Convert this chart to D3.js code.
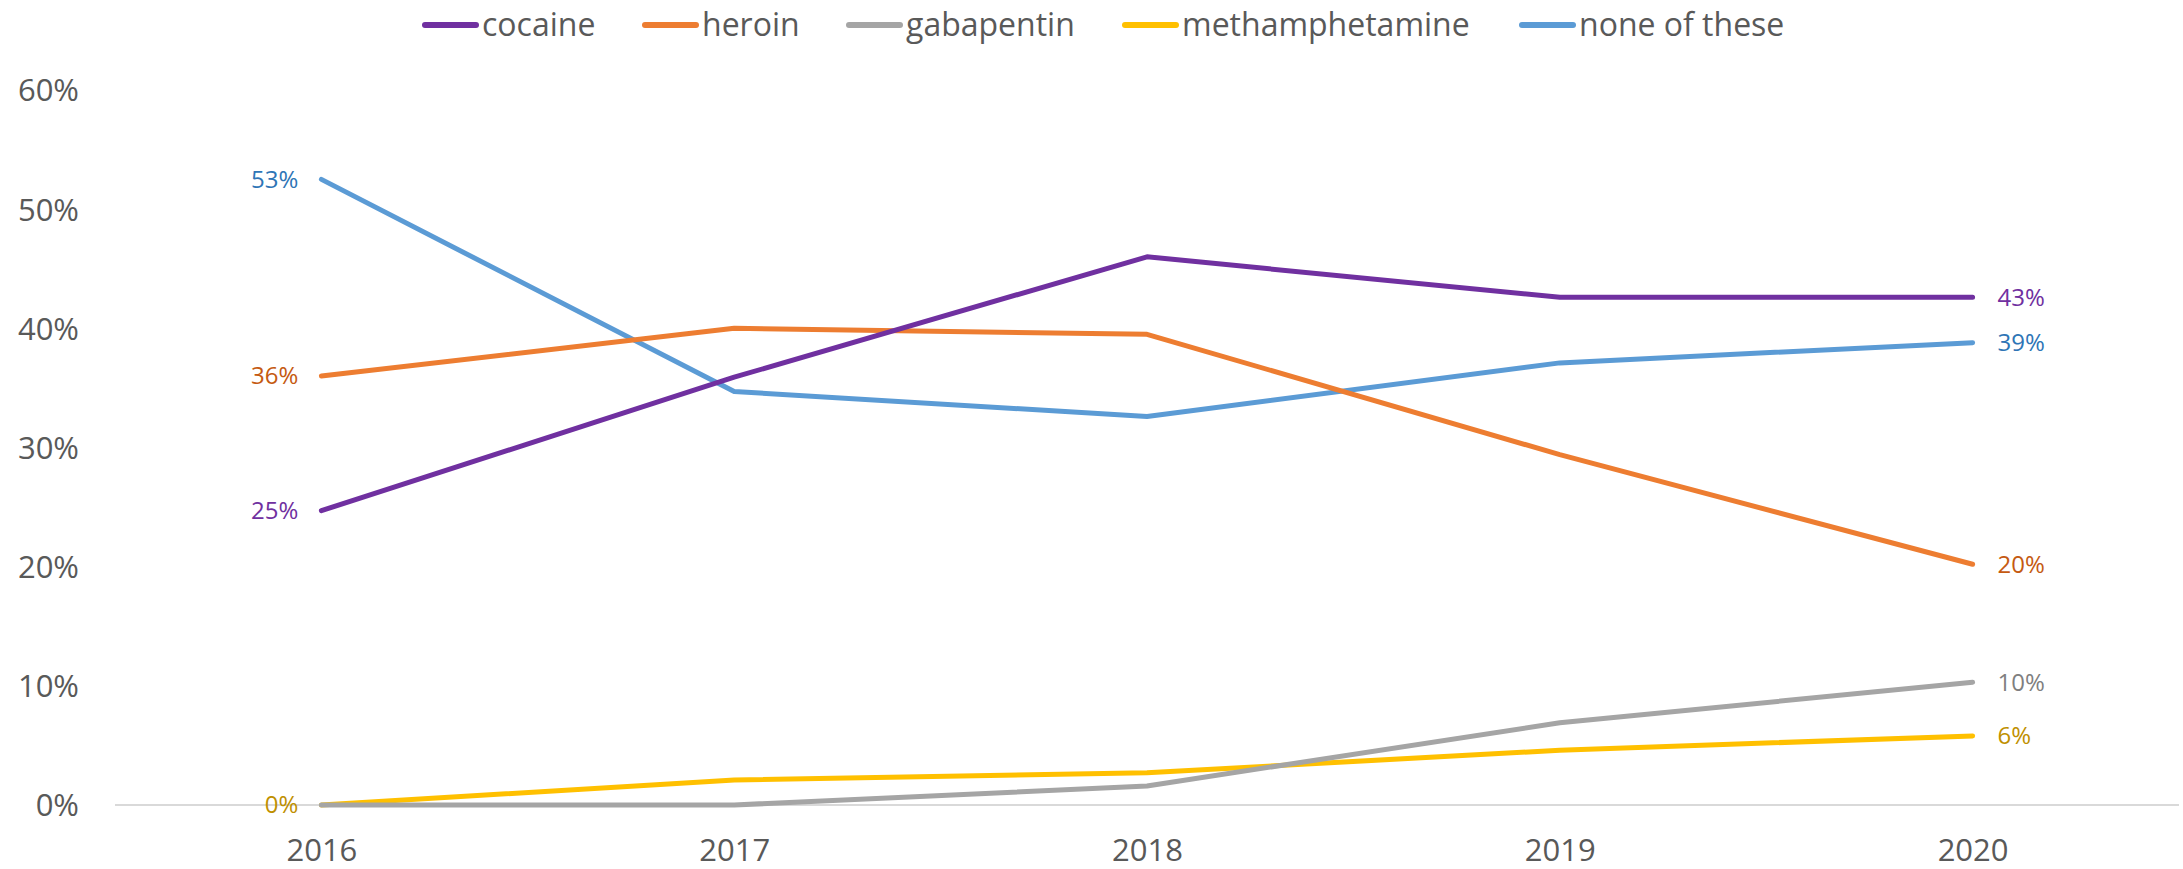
<!DOCTYPE html>
<meta charset="utf-8">
<style>
  body { margin: 0; background: #fff; }
  svg { display: block; }
  text { font-family: 'Open Sans', sans-serif; }
  .tick text { fill: #595959; }
  .leg text { fill: #595959; font-size: 32px; }
</style>
<script src="https://d3js.org/d3.v7.min.js"></script>
<svg width="2183" height="869"></svg>
<script>
var years = ["2016", "2017", "2018", "2019", "2020"];
var yTicks = [0, 0.1, 0.2, 0.3, 0.4, 0.5, 0.6];

var cocaine = [0.247, 0.359, 0.460, 0.426, 0.426];
var heroin = [0.360, 0.400, 0.395, 0.294, 0.202];
var gabapentin = [0, 0, 0.016, 0.069, 0.103];
var methamphetamine = [0, 0.021, 0.027, 0.046, 0.058];
var noneOfThese = [0.525, 0.347, 0.326, 0.371, 0.388];

var seriesNames = ["cocaine", "heroin", "gabapentin", "methamphetamine", "none of these"];
var seriesValues = [cocaine, heroin, gabapentin, methamphetamine, noneOfThese];
var lineColors = ["#7030A0", "#ED7D31", "#A5A5A5", "#FFC000", "#5B9BD5"];
var labelColors = ["#7030A0", "#C55A11", "#7F7F7F", "#BF9000", "#2E75B6"];

// which series get a label on the first / last point
var firstLabels = [0, 1, 3, 4];
var lastLabels = [0, 1, 2, 3, 4];

var svg = d3.select("svg");
var plotL = 115, plotR = 2179, plotT = 90, plotB = 805;

var x = d3.scalePoint().domain(years).range([plotL, plotR]).padding(0.5);
var y = d3.scaleLinear().domain([0, 0.6]).range([plotB, plotT]);

// baseline
svg.append("line")
  .attr("x1", plotL).attr("x2", plotR)
  .attr("y1", y(0)).attr("y2", y(0))
  .attr("stroke", "#D9D9D9").attr("stroke-width", 2);

var yAxis = svg.append("g")
  .attr("transform", "translate(79,0)")
  .call(d3.axisLeft(y).tickValues(yTicks).tickFormat(d3.format(".0%")).tickSize(0).tickPadding(0));
yAxis.select(".domain").remove();
yAxis.selectAll("text").style("font-size", "31px").attr("dy", "0.35em");

var xAxis = svg.append("g")
  .attr("transform", "translate(0,861)")
  .call(d3.axisBottom(x).tickSize(0).tickPadding(0));
xAxis.select(".domain").remove();
xAxis.selectAll("text").style("font-size", "31px").attr("dy", "0");

var line = d3.line()
  .x(function(d, i) { return x(years[i]); })
  .y(function(d) { return y(d); });

// draw in reverse so cocaine sits on top
var order = [4, 3, 2, 1, 0];
order.forEach(function(s) {
  svg.append("path")
    .datum(seriesValues[s])
    .attr("d", line)
    .attr("fill", "none")
    .attr("stroke", lineColors[s])
    .attr("stroke-width", 5)
    .attr("stroke-linejoin", "round")
    .attr("stroke-linecap", "round");
});

var fmt = d3.format(".0%");
firstLabels.forEach(function(s) {
  var v = seriesValues[s][0];
  svg.append("text")
    .attr("x", x(years[0]) - 23)
    .attr("y", y(v))
    .attr("dy", "0.35em")
    .attr("text-anchor", "end")
    .style("font-size", "24px")
    .style("fill", labelColors[s])
    .text(fmt(v));
});
lastLabels.forEach(function(s) {
  var v = seriesValues[s][4];
  svg.append("text")
    .attr("x", x(years[4]) + 25)
    .attr("y", y(v))
    .attr("dy", "0.35em")
    .attr("text-anchor", "start")
    .style("font-size", "24px")
    .style("fill", labelColors[s])
    .text(fmt(v));
});

// legend
var legX = [423, 643, 847, 1123, 1520];
var leg = svg.append("g").attr("class", "leg");
seriesNames.forEach(function(name, i) {
  var g = leg.append("g").attr("transform", "translate(" + legX[i] + ",25)");
  g.append("line")
    .attr("x1", 2).attr("x2", 53)
    .attr("stroke", lineColors[i]).attr("stroke-width", 6)
    .attr("stroke-linecap", "round");
  g.append("text")
    .attr("x", 59).attr("dy", "0.35em")
    .text(name);
});
</script>
